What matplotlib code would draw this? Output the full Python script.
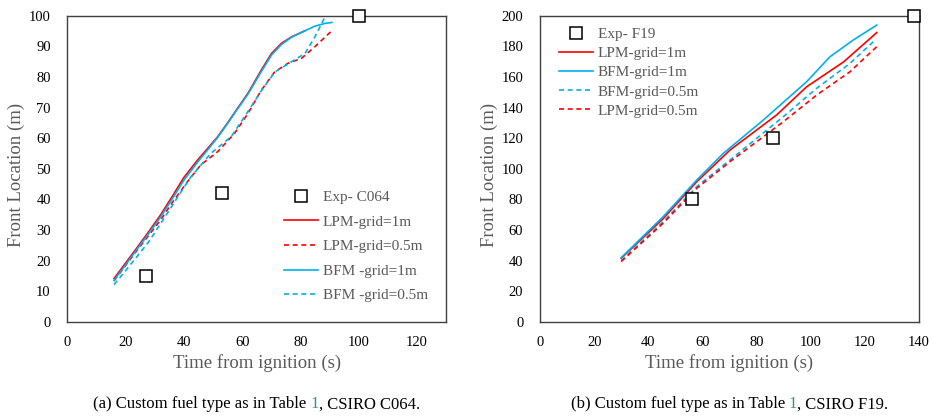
import matplotlib.pyplot as plt

plt.rcParams['font.family'] = ['Liberation Serif', 'DejaVu Serif']

RED = '#FF0000'
BLUE = '#00B0F0'
GRAY = '#595959'

# (a) CSIRO C064
exp_a_t = [27, 53, 100]
exp_a_v = [15, 42, 100]

lpm1_a_t = [16, 20, 24, 28, 32, 36, 40, 44.7, 48, 51.6, 55, 58, 62, 66.6, 70.1, 73.5, 77, 81.6]
lpm1_a_v = [14.2, 19.3, 24.4, 29.6, 35, 41, 47.2, 52.9, 56.5, 60.5, 65, 69.2, 74.7, 82.3, 87.7, 91, 93.1, 95.1]

bfm1_a_t = [16, 20, 24, 28, 32, 36, 40, 44.7, 48, 51.6, 55, 58, 62, 66.6, 70.1, 73.5, 77, 81.6, 85, 88.5, 90.8]
bfm1_a_v = [13.6, 18.7, 23.9, 29, 34.3, 40.2, 46.3, 52.2, 56, 60.3, 64.8, 69, 74.4, 81.8, 87.2, 90.6, 93, 95.1, 96.6, 97.5, 97.8]

lpm05_a_t = [16, 20, 24, 28, 32, 36, 41.2, 45.8, 51.6, 57.4, 62, 66.6, 71.2, 75.8, 80.4, 85, 90.8]
lpm05_a_v = [13.4, 18.5, 23.5, 28.4, 33.3, 39, 45.8, 51.3, 55.6, 61.6, 68.1, 75.7, 81.7, 84.5, 86.1, 89.9, 95.1]

bfm05_a_t = [16, 20, 24, 28, 34.3, 38, 42.4, 49.3, 56.2, 60.8, 66.6, 71.2, 75.8, 81.6, 85, 88.5, 90]
bfm05_a_v = [12.2, 16.8, 21.5, 26.3, 35.5, 41, 47.4, 55.1, 60.5, 67, 75.5, 81.6, 84.3, 87.7, 93.1, 99.7, 102]

# (b) CSIRO F19
exp_b_t = [56, 86, 138]
exp_b_v = [80, 120, 200]

lpm1_b_t = [30, 45.5, 57.9, 70.2, 87.4, 98.5, 112.2, 124.4]
lpm1_b_v = [41.6, 67.5, 91.6, 112.3, 135.2, 153.6, 169.9, 189]

bfm1_b_t = [30, 45.5, 57.9, 67.7, 82.5, 98.5, 107.1, 115.7, 124.4]
bfm1_b_v = [42, 68.8, 92.7, 110.1, 131.9, 156.9, 173.2, 184.1, 193.9]

bfm05_b_t = [30, 45.5, 57.9, 70.2, 89.9, 102.2, 114.5, 123.1]
bfm05_b_v = [40, 65.5, 88.4, 105.8, 134.1, 152.6, 168.9, 183]

lpm05_b_t = [30, 45.5, 57.9, 70.2, 89.9, 102.2, 114.5, 124.4]
lpm05_b_v = [39.5, 64.5, 87.3, 104.7, 130.8, 148.2, 163.4, 179.8]

fig = plt.figure(figsize=(9.33, 4.17), dpi=100)
ax1 = fig.add_axes([0.0723, 0.2278, 0.4057, 0.7345])
ax2 = fig.add_axes([0.5788, 0.2278, 0.4062, 0.7345])

dash = (0, (3, 2.2))
lw = 1.2
mk = dict(marker='s', linestyle='none', markersize=9, markerfacecolor='white',
          markeredgecolor='black', markeredgewidth=1.1, clip_on=False, zorder=5)

ax1.plot(exp_a_t, exp_a_v, label='Exp- C064', **mk)
ax1.plot(lpm1_a_t, lpm1_a_v, color=RED, lw=lw, label='LPM-grid=1m')
ax1.plot(lpm05_a_t, lpm05_a_v, color=RED, lw=lw, ls=dash, label='LPM-grid=0.5m')
ax1.plot(bfm1_a_t, bfm1_a_v, color=BLUE, lw=lw, label='BFM -grid=1m')
ax1.plot(bfm05_a_t, bfm05_a_v, color=BLUE, lw=lw, ls=dash, label='BFM -grid=0.5m')
ax1.set_xlim(0, 130)
ax1.set_ylim(0, 100)
ax1.set_xticks(range(0, 121, 20))
ax1.set_yticks(range(0, 101, 10))

ax2.plot(exp_b_t, exp_b_v, label='Exp- F19', **mk)
ax2.plot(lpm1_b_t, lpm1_b_v, color=RED, lw=lw, label='LPM-grid=1m')
ax2.plot(bfm1_b_t, bfm1_b_v, color=BLUE, lw=lw, label='BFM-grid=1m')
ax2.plot(bfm05_b_t, bfm05_b_v, color=BLUE, lw=lw, ls=dash, label='BFM-grid=0.5m')
ax2.plot(lpm05_b_t, lpm05_b_v, color=RED, lw=lw, ls=dash, label='LPM-grid=0.5m')
ax2.set_xlim(0, 140)
ax2.set_ylim(0, 200)
ax2.set_xticks(range(0, 141, 20))
ax2.set_yticks(range(0, 201, 20))

for ax, ylx in ((ax1, -0.112), (ax2, -0.112)):
    for s in ax.spines.values():
        s.set_color('#404040')
        s.set_linewidth(1.0)
    ax.tick_params(length=0, labelsize=10.5, colors='black')
    ax.tick_params(axis='x', pad=10)
    ax.tick_params(axis='y', pad=12)
    ax.set_xlabel('Time from ignition (s)', fontsize=13.5, color=GRAY, labelpad=4)
    ax.set_ylabel('Front Location (m)', fontsize=13.5, color=GRAY)
    ax.yaxis.set_label_coords(ylx, 0.48)

leg1 = ax1.legend(loc='upper left', bbox_to_anchor=(0.572, 0.429), frameon=False,
                  fontsize=11, handlelength=2.2, labelspacing=0.71, handletextpad=0.35,
                  borderpad=0, borderaxespad=0)
leg2 = ax2.legend(loc='upper left', bbox_to_anchor=(0.05, 0.962), frameon=False,
                  fontsize=11, handlelength=2.2, labelspacing=0.36, handletextpad=0.35,
                  borderpad=0, borderaxespad=0)
for leg in (leg1, leg2):
    for t in leg.get_texts():
        t.set_color(GRAY)

# captions, with the table number in a link colour
fig.canvas.draw()
r = fig.canvas.get_renderer()
for ax, pre, post in ((ax1, '(a) Custom fuel type as in Table ', ', CSIRO C064.'),
                      (ax2, '(b) Custom fuel type as in Table ', ', CSIRO F19.')):
    pos = ax.get_position()
    cx = (pos.x0 + pos.x1) / 2 * fig.bbox.width
    parts = [fig.text(0, 0.03, s, fontsize=12, va='center', color=c)
             for s, c in ((pre, 'black'), ('1', '#3a8f8f'), (post, 'black'))]
    widths = [p.get_window_extent(r).width for p in parts]
    x = cx - sum(widths) / 2
    for p, w in zip(parts, widths):
        p.set_x(x / fig.bbox.width)
        x += w

fig.savefig('out.png', dpi=100)
